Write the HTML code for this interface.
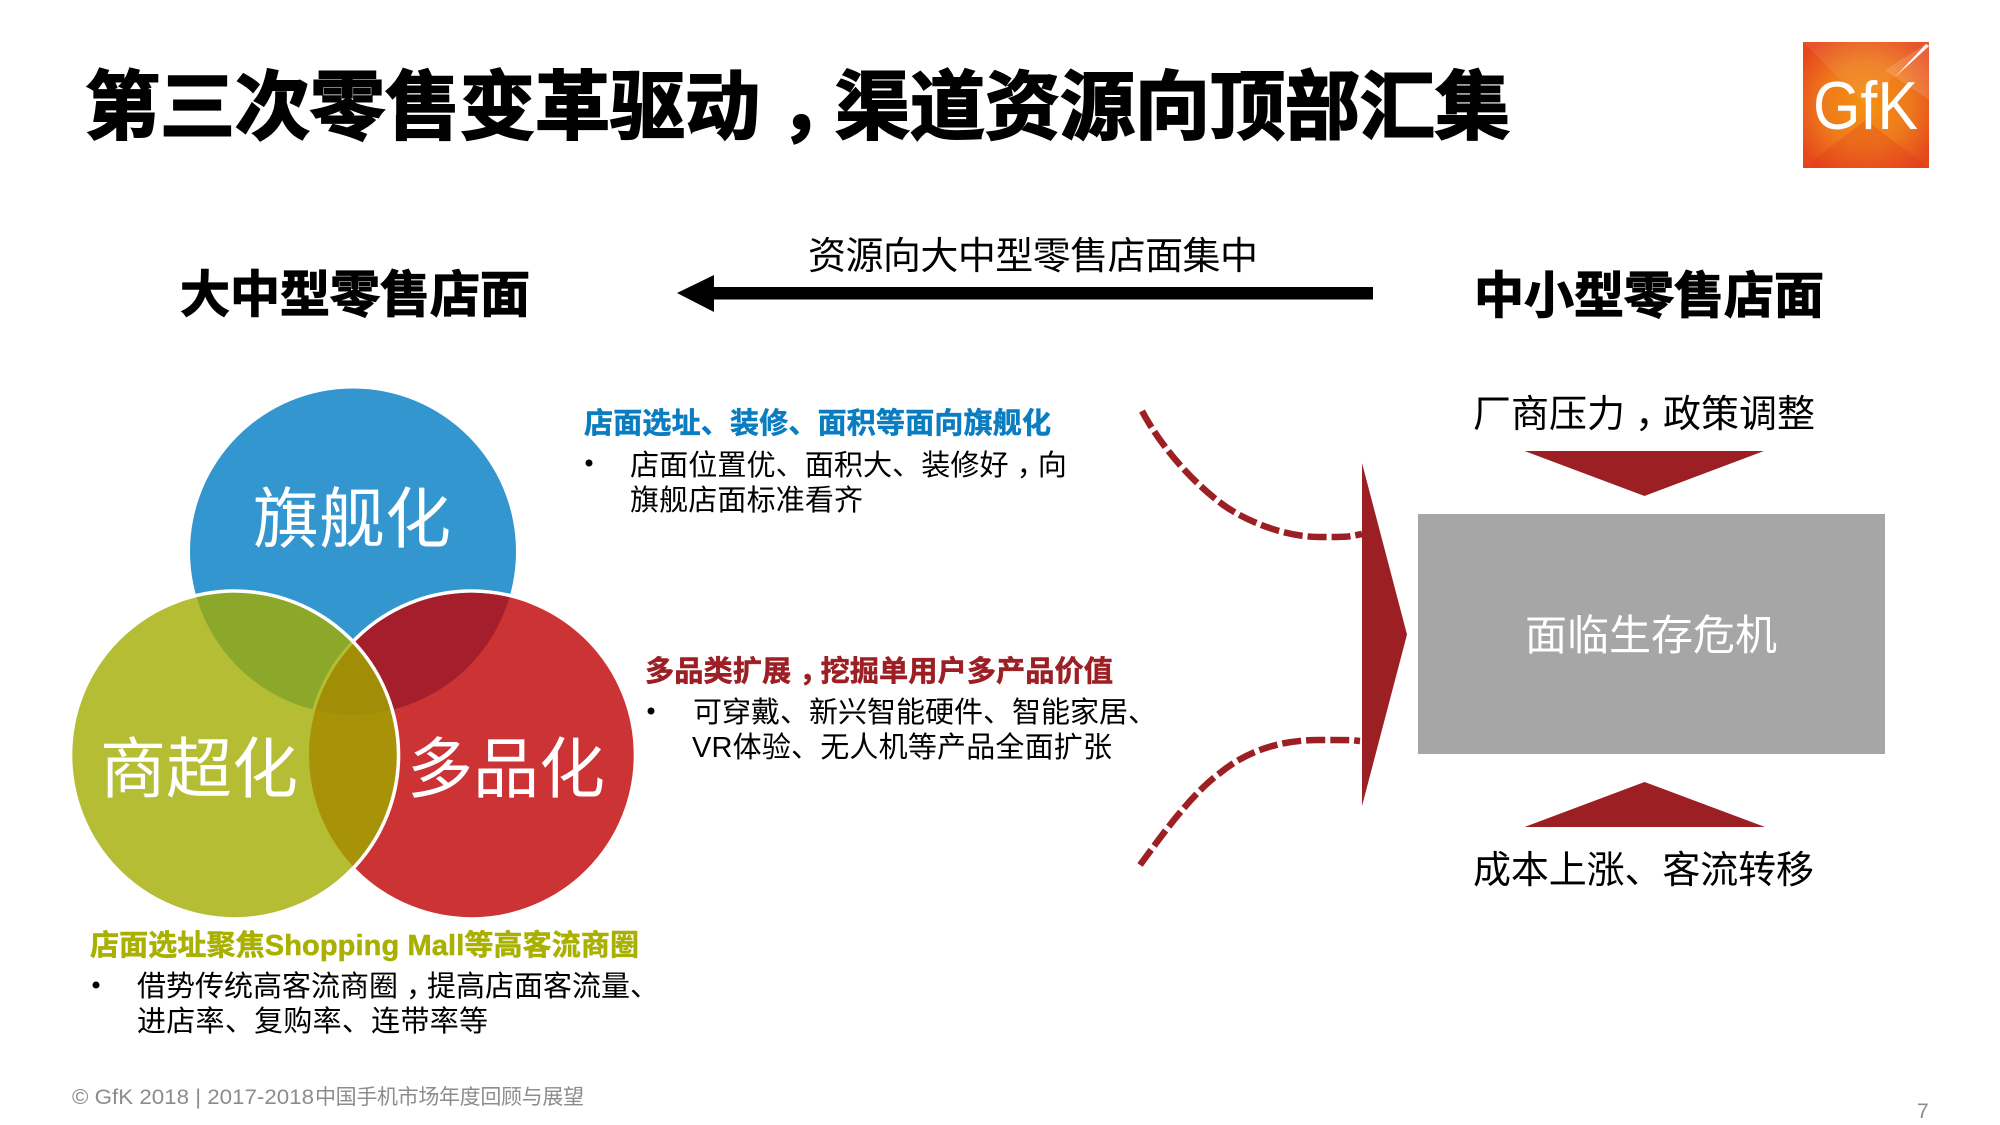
<!DOCTYPE html>
<html lang="zh">
<head>
<meta charset="utf-8">
<title>第三次零售变革驱动&#xFF0C;渠道资源向顶部汇集</title>
<style>
html,body{margin:0;padding:0;background:#fff;width:2000px;height:1125px;overflow:hidden}
svg{display:block}
text{font-family:"Liberation Sans","Noto Sans CJK SC",sans-serif}
.b{font-weight:700}
</style>
</head>
<body>
<svg xmlns="http://www.w3.org/2000/svg" width="2000" height="1125" viewBox="0 0 2000 1125">
<defs>
<clipPath id="cb"><circle cx="353" cy="551.500" r="163"/></clipPath>
<clipPath id="co"><circle cx="234.500" cy="755" r="162.200"/></clipPath>
<clipPath id="cr"><circle cx="471.500" cy="755" r="162.200"/></clipPath>
<radialGradient id="lg" cx="50%" cy="50%" r="62%">
<stop offset="0" stop-color="#F39210"/><stop offset=".55" stop-color="#EE7A1C"/><stop offset="1" stop-color="#E6481C"/>
</radialGradient>
</defs>
<rect width="2000" height="1125" fill="#fff"/>

<!-- title -->
<text class="b" x="85" y="133" font-size="75" fill="#000" stroke="#000" stroke-width="2">第三次零售变革驱动<tspan dx="20">&#xFF0C;</tspan><tspan dx="-20">渠道资源向顶部汇集</tspan></text>

<!-- logo -->
<rect x="1803" y="42" width="126" height="126" fill="url(#lg)"/>
<polygon points="1803,42 1929,42 1866,105" fill="#fff" opacity=".07"/>
<polygon points="1929,42 1929,100 1885,70" fill="#fff" opacity=".14"/>
<polygon points="1803,168 1929,168 1866,120" fill="#E0301A" opacity=".25"/>
<polygon points="1926,44 1929,46 1894,78" fill="#fff"/>
<text x="1813" y="129" font-size="68" textLength="105" lengthAdjust="spacingAndGlyphs" fill="#fff">GfK</text>

<!-- heads -->
<text class="b" x="180" y="312" font-size="50" textLength="350" fill="#000" stroke="#000" stroke-width="1.200">大中型零售店面</text>
<text class="b" x="1474" y="313" font-size="50" textLength="350" fill="#000" stroke="#000" stroke-width="1.200">中小型零售店面</text>
<text x="808" y="269" font-size="38" textLength="450" fill="#000">资源向大中型零售店面集中</text>
<polygon points="677,293 714,275 714,287 1373,287 1373,299.500 714,299.500 714,312" fill="#000"/>

<!-- venn -->
<circle cx="353" cy="551.500" r="163" fill="#3496CF"/>
<circle cx="471.500" cy="755" r="164" fill="#CC3335" stroke="#fff" stroke-width="3.600"/>
<g clip-path="url(#cb)"><circle cx="471.500" cy="755" r="162.200" fill="#A41E2B"/></g>
<circle cx="234.500" cy="755" r="164" fill="#B5BD35" stroke="#fff" stroke-width="3.600"/>
<g clip-path="url(#co)">
<g clip-path="url(#cb)"><rect x="60" y="380" width="600" height="550" fill="#8BA82B"/></g>
<circle cx="471.500" cy="755" r="164" fill="#A89308" stroke="#B5BD35" stroke-width="3"/>
<g clip-path="url(#cr)"><circle cx="353" cy="551.500" r="163" fill="#A28E06"/></g>
</g>
<text x="253" y="542" font-size="66" textLength="198" fill="#fff">旗舰化</text>
<text x="100" y="792" font-size="66" textLength="198" fill="#fff">商超化</text>
<text x="407" y="792" font-size="66" textLength="198" fill="#fff">多品化</text>

<!-- blue block -->
<text class="b" x="584" y="433" font-size="29" textLength="467" fill="#0A7CC0" stroke="#0A7CC0" stroke-width=".5">店面选址、装修、面积等面向旗舰化</text>
<circle cx="589" cy="463" r="3.500" fill="#000"/>
<text x="630" y="475" font-size="29.130" fill="#000">店面位置优、面积大、装修好<tspan dx="8">&#xFF0C;</tspan><tspan dx="-8">向</tspan></text>
<text x="630" y="510" font-size="29" textLength="233" fill="#000">旗舰店面标准看齐</text>

<!-- red block -->
<text class="b" x="645" y="681" font-size="29.250" fill="#9C1F24" stroke="#9C1F24" stroke-width=".5">多品类扩展<tspan dx="8">&#xFF0C;</tspan><tspan dx="-8">挖掘单用户多产品价值</tspan></text>
<circle cx="651" cy="711" r="3.500" fill="#000"/>
<text x="693" y="722" font-size="29" textLength="464" fill="#000">可穿戴、新兴智能硬件、智能家居、</text>
<text x="692" y="757" font-size="29" textLength="420" fill="#000">VR体验、无人机等产品全面扩张</text>

<!-- green block -->
<text class="b" x="90" y="955" font-size="29" textLength="549" fill="#A9B000" stroke="#A9B000" stroke-width=".5">店面选址聚焦Shopping Mall等高客流商圈</text>
<circle cx="96" cy="985" r="3.500" fill="#000"/>
<text x="137" y="996" font-size="29" fill="#000">借势传统高客流商圈<tspan dx="8">&#xFF0C;</tspan><tspan dx="-8">提高店面客流量、</tspan></text>
<text x="137" y="1031" font-size="29" textLength="351" fill="#000">进店率、复购率、连带率等</text>

<!-- footer -->
<text x="72" y="1104" font-size="21" textLength="242" lengthAdjust="spacingAndGlyphs" fill="#8C8C8C">© GfK 2018 | 2017-2018</text>
<text x="315" y="1104" font-size="21" textLength="269" fill="#8C8C8C">中国手机市场年度回顾与展望</text>
<text x="1917" y="1118" font-size="21" fill="#8C8C8C">7</text>

<!-- right side -->
<text x="1473" y="427" font-size="38" fill="#000">厂商压力<tspan dx="10">&#xFF0C;</tspan><tspan dx="-10">政策调整</tspan></text>
<polygon points="1524.500,451 1764,451 1644.500,496" fill="#9C1F24"/>
<rect x="1418" y="514" width="467" height="240" fill="#A6A6A6"/>
<text x="1525" y="650" font-size="42" textLength="252" fill="#fff">面临生存危机</text>
<polygon points="1644.500,782 1765,827 1524.500,827" fill="#9C1F24"/>
<text x="1473" y="883" font-size="38" textLength="341" fill="#000">成本上涨、客流转移</text>

<polygon points="1362,463 1407,634.500 1362,806" fill="#9C1F24"/>
<g fill="none" stroke="#9C1F24" stroke-width="6.500" stroke-dasharray="19 5">
<path d="M1142 411C1160 445 1190 480 1222 504C1245 521 1285 537 1319 537S1345 537 1362 534"/>
<path d="M1140 865C1160 838 1190 795 1220 773C1243 754 1275 740 1319 740S1348 740 1360 741"/>
</g>
</svg>
</body>
</html>
